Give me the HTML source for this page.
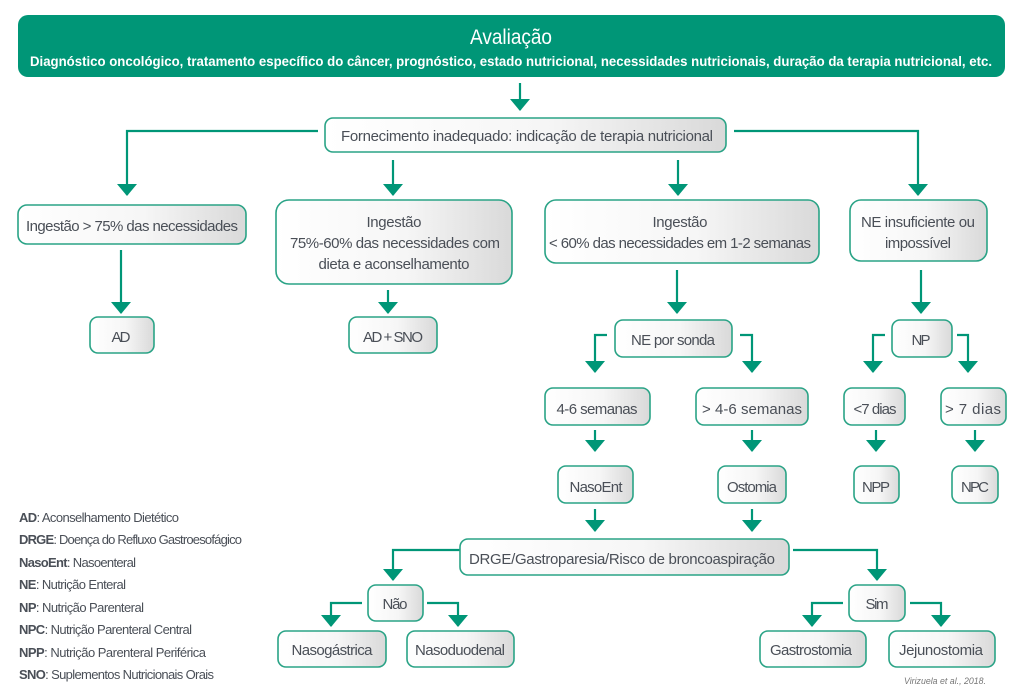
<!DOCTYPE html>
<html><head><meta charset="utf-8"><style>
html,body{margin:0;padding:0;background:#fff;width:1024px;height:700px;overflow:hidden}
svg{display:block}
text{font-family:"Liberation Sans Narrow","Liberation Sans",sans-serif;fill:#4a4f57}
</style></head><body>
<svg width="1024" height="700" viewBox="0 0 1024 700" xmlns="http://www.w3.org/2000/svg">
<defs>
<linearGradient id="g" x1="0" y1="0" x2="1" y2="0"><stop offset="0" stop-color="#ffffff"/><stop offset="0.55" stop-color="#f6f6f6"/><stop offset="1" stop-color="#d9d9d9"/></linearGradient>
<marker id="a" markerWidth="12" markerHeight="20" refX="11" refY="10" orient="auto" markerUnits="userSpaceOnUse" viewBox="0 0 12 20"><path d="M0,0 L12,10 L0,20 z" fill="#009677"/></marker>
</defs>
<g fill="none" stroke="#009677" stroke-width="2.2">
<path d="M520 83 V110" marker-end="url(#a)"/>
<path d="M318 131 H127 V195" marker-end="url(#a)"/>
<path d="M734 131 H918 V195" marker-end="url(#a)"/>
<path d="M393 160 V195" marker-end="url(#a)"/>
<path d="M678 160 V195" marker-end="url(#a)"/>
<path d="M121 250 V313" marker-end="url(#a)"/>
<path d="M388 290 V313" marker-end="url(#a)"/>
<path d="M677 270 V313" marker-end="url(#a)"/>
<path d="M921 270 V313" marker-end="url(#a)"/>
<path d="M607 335 H595 V372" marker-end="url(#a)"/>
<path d="M740 335 H752 V372" marker-end="url(#a)"/>
<path d="M885 335 H873 V372" marker-end="url(#a)"/>
<path d="M957 335 H968 V372" marker-end="url(#a)"/>
<path d="M595 430 V451" marker-end="url(#a)"/>
<path d="M752 430 V451" marker-end="url(#a)"/>
<path d="M876 430 V451" marker-end="url(#a)"/>
<path d="M975 430 V451" marker-end="url(#a)"/>
<path d="M595 509 V531" marker-end="url(#a)"/>
<path d="M752 509 V531" marker-end="url(#a)"/>
<path d="M460 550 H393 V580" marker-end="url(#a)"/>
<path d="M793 550 H877 V580" marker-end="url(#a)"/>
<path d="M362 603 H331 V626" marker-end="url(#a)"/>
<path d="M427 603 H458 V626" marker-end="url(#a)"/>
<path d="M843 603 H812 V626" marker-end="url(#a)"/>
<path d="M910 603 H941 V626" marker-end="url(#a)"/>
</g>
<rect x="18" y="15" width="987" height="62" rx="10" fill="#009677"/>
<text x="511" y="44" text-anchor="middle" font-size="21" style="fill:#fff" textLength="82" lengthAdjust="spacingAndGlyphs">Avaliação</text>
<text x="511" y="66" text-anchor="middle" font-size="14" font-weight="bold" style="fill:#fff" textLength="962" lengthAdjust="spacingAndGlyphs">Diagnóstico oncológico, tratamento específico do câncer, prognóstico, estado nutricional, necessidades nutricionais, duração da terapia nutricional, etc.</text>
<g fill="url(#g)" stroke="#2aa386" stroke-width="1.6">
<rect x="325" y="118" width="401" height="34" rx="8"/>
<rect x="18" y="205" width="228" height="39" rx="9"/>
<rect x="276" y="200" width="236" height="84" rx="13"/>
<rect x="545" y="200" width="274" height="63" rx="11"/>
<rect x="850" y="200" width="137" height="61" rx="11"/>
<rect x="90" y="317" width="64" height="36" rx="8"/>
<rect x="349" y="317" width="88" height="36" rx="8"/>
<rect x="615" y="320" width="117" height="37" rx="8"/>
<rect x="892" y="320" width="60" height="37" rx="8"/>
<rect x="545" y="388" width="105" height="37" rx="8"/>
<rect x="696" y="388" width="112" height="37" rx="8"/>
<rect x="844" y="388" width="61" height="37" rx="8"/>
<rect x="941" y="388" width="65" height="37" rx="8"/>
<rect x="558" y="466" width="75" height="37" rx="8"/>
<rect x="718" y="466" width="68" height="37" rx="8"/>
<rect x="854" y="466" width="45" height="37" rx="8"/>
<rect x="952" y="466" width="46" height="37" rx="8"/>
<rect x="460" y="539" width="329" height="36" rx="8"/>
<rect x="368" y="585" width="55" height="36" rx="8"/>
<rect x="849" y="585" width="56" height="36" rx="8"/>
<rect x="278" y="631" width="108" height="36" rx="8"/>
<rect x="407" y="631" width="107" height="36" rx="8"/>
<rect x="760" y="631" width="106" height="36" rx="8"/>
<rect x="889" y="631" width="106" height="36" rx="8"/>
</g>
<g font-size="15" text-anchor="middle" lengthAdjust="spacingAndGlyphs">
<text x="527" y="141" textLength="372">Fornecimento inadequado: indicação de terapia nutricional</text>
<text x="132" y="231" textLength="212">Ingestão &gt; 75% das necessidades</text>
<text x="394" y="227" textLength="55">Ingestão</text>
<text x="395" y="248" textLength="210">75%-60% das necessidades com</text>
<text x="394" y="269" textLength="151">dieta e aconselhamento</text>
<text x="680" y="227" textLength="55">Ingestão</text>
<text x="680" y="248" textLength="262">&lt; 60% das necessidades em 1-2 semanas</text>
<text x="918" y="227" textLength="114">NE insuficiente ou</text>
<text x="918" y="248" textLength="66">impossível</text>
<text x="121" y="342" textLength="19">AD</text>
<text x="393" y="342" textLength="60">AD + SNO</text>
<text x="673" y="345" textLength="84">NE por sonda</text>
<text x="921" y="345" textLength="19">NP</text>
<text x="597" y="414" textLength="81">4-6 semanas</text>
<text x="752" y="414" textLength="100">&gt; 4-6 semanas</text>
<text x="875" y="414" textLength="43">&lt;7 dias</text>
<text x="973" y="414" textLength="56">&gt; 7 dias</text>
<text x="596" y="492" textLength="53">NasoEnt</text>
<text x="752" y="492" textLength="50">Ostomia</text>
<text x="876" y="492" textLength="28">NPP</text>
<text x="975" y="492" textLength="28">NPC</text>
<text x="622" y="564" textLength="306">DRGE/Gastroparesia/Risco de broncoaspiração</text>
<text x="395" y="609" textLength="25">Não</text>
<text x="877" y="609" textLength="23">Sim</text>
<text x="332" y="655" textLength="81">Nasogástrica</text>
<text x="460" y="655" textLength="90">Nasoduodenal</text>
<text x="811" y="655" textLength="82">Gastrostomia</text>
<text x="941" y="655" textLength="84">Jejunostomia</text>
</g>
<g font-size="13" lengthAdjust="spacingAndGlyphs">
<text x="19" y="522" textLength="160"><tspan font-weight="bold">AD</tspan>: Aconselhamento Dietético</text>
<text x="19" y="544" textLength="223"><tspan font-weight="bold">DRGE</tspan>: Doença do Refluxo Gastroesofágico</text>
<text x="19" y="567" textLength="117"><tspan font-weight="bold">NasoEnt</tspan>: Nasoenteral</text>
<text x="19" y="589" textLength="107"><tspan font-weight="bold">NE</tspan>: Nutrição Enteral</text>
<text x="19" y="612" textLength="125"><tspan font-weight="bold">NP</tspan>: Nutrição Parenteral</text>
<text x="19" y="634" textLength="173"><tspan font-weight="bold">NPC</tspan>: Nutrição Parenteral Central</text>
<text x="19" y="657" textLength="187"><tspan font-weight="bold">NPP</tspan>: Nutrição Parenteral Periférica</text>
<text x="19" y="679" textLength="195"><tspan font-weight="bold">SNO</tspan>: Suplementos Nutricionais Orais</text>
</g>
<text x="904" y="684" font-size="9" font-style="italic" textLength="82" lengthAdjust="spacingAndGlyphs" style="fill:#777">Virizuela et al., 2018.</text>
</svg>
</body></html>
